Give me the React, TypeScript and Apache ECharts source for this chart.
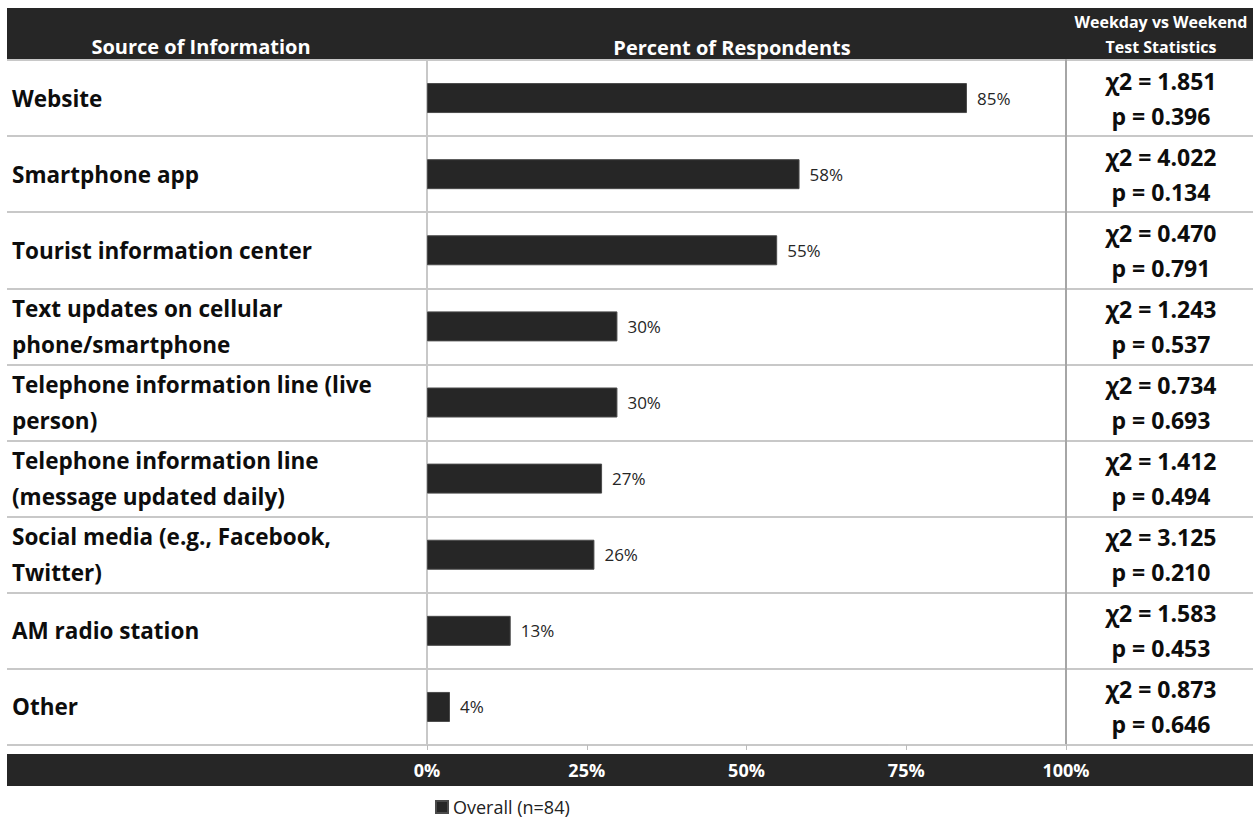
import React, { useEffect, useRef } from "react";
import * as echarts from "echarts";

const categories = [
  "Website",
  "Smartphone app",
  "Tourist information center",
  "Text updates on cellular\nphone/smartphone",
  "Telephone information line (live\nperson)",
  "Telephone information line\n(message updated daily)",
  "Social media (e.g., Facebook,\nTwitter)",
  "AM radio station",
  "Other",
];
const percents = [84.5, 58.3, 54.8, 29.8, 29.8, 27.4, 26.2, 13.1, 3.6];
const chiSquare = ["1.851", "4.022", "0.470", "1.243", "0.734", "1.412", "3.125", "1.583", "0.873"];
const pValues = ["0.396", "0.134", "0.791", "0.537", "0.693", "0.494", "0.210", "0.453", "0.646"];
const seriesName = "Overall (n=84)";

const FONT = "'Open Sans', 'Noto Sans', sans-serif";

export default function App() {
  const ref = useRef<HTMLDivElement>(null);
  useEffect(() => {
    if (!ref.current) return;
    const chart = echarts.init(ref.current, null, { renderer: "svg" });
    const statLabels = categories.map((_, i) => `χ2 = ${chiSquare[i]}\np = ${pValues[i]}`);
    chart.setOption({
      animation: false,
      textStyle: { fontFamily: FONT },
      grid: [
        { left: 7, right: 0, top: 60, bottom: 73 },
        { left: 427, right: 187, top: 60, bottom: 73 },
      ],
      legend: {
        data: [seriesName],
        left: 430,
        top: 792,
        icon: "rect",
        itemWidth: 12,
        itemHeight: 12,
        itemGap: 4,
        textStyle: { fontSize: 18, lineHeight: 20, color: "#222", fontFamily: FONT },
      },
      xAxis: [
        { gridIndex: 0, type: "value", show: false },
        {
          gridIndex: 1,
          type: "value",
          min: 0,
          max: 100,
          interval: 25,
          position: "bottom",
          z: 10,
          axisLine: { show: true, lineStyle: { color: "#c8c8c8", width: 2 } },
          axisTick: { show: true, length: 5, lineStyle: { color: "#bbbbbb", width: 1 } },
          splitLine: { show: false },
          axisLabel: {
            formatter: "{value}%",
            color: "#ffffff",
            fontWeight: "bold",
            fontSize: 18,
            margin: 16,
            fontFamily: FONT,
          },
        },
      ],
      yAxis: [
        {
          gridIndex: 0,
          type: "category",
          data: categories,
          inverse: true,
          axisLine: { show: false },
          axisTick: { show: false },
          splitLine: { show: true, lineStyle: { color: "#c8c8c8", width: 2 } },
          axisLabel: {
            inside: true,
            align: "left",
            margin: 5,
            fontSize: 22.5,
            fontWeight: "bold",
            color: "#0d0d0d",
            lineHeight: 36,
            fontFamily: FONT,
          },
        },
        {
          gridIndex: 0,
          type: "category",
          data: statLabels,
          inverse: true,
          position: "right",
          axisLine: { show: false },
          axisTick: { show: false },
          splitLine: { show: false },
          axisLabel: {
            inside: true,
            align: "center",
            margin: 92,
            fontSize: 23,
            fontWeight: "bold",
            color: "#0d0d0d",
            lineHeight: 35,
            fontFamily: FONT,
          },
        },
        {
          gridIndex: 1,
          type: "category",
          data: categories,
          inverse: true,
          axisLine: { show: true, lineStyle: { color: "#c8c8c8", width: 2 } },
          axisTick: { show: false },
          axisLabel: { show: false },
          splitLine: { show: false },
        },
        {
          gridIndex: 1,
          type: "category",
          data: categories,
          inverse: true,
          position: "right",
          axisLine: { show: true, lineStyle: { color: "#a6a6a6", width: 2 } },
          axisTick: { show: false },
          axisLabel: { show: false },
          splitLine: { show: false },
        },
      ],
      series: [
        {
          name: seriesName,
          type: "bar",
          xAxisIndex: 1,
          yAxisIndex: 2,
          data: percents,
          barWidth: 30,
          itemStyle: { color: "#262626", borderColor: "#4a4a4a", borderWidth: 1 },
          label: {
            show: true,
            position: "right",
            distance: 10,
            formatter: (p: any) => `${Math.round(p.value)}%`,
            color: "#262626",
            fontSize: 17,
            fontFamily: FONT,
          },
        },
      ],
      graphic: [
        {
          type: "rect",
          z: -10,
          shape: { x: 7, y: 8, width: 1246, height: 52 },
          style: { fill: "#262626" },
        },
        {
          type: "rect",
          z: -10,
          shape: { x: 7, y: 754, width: 1246, height: 32 },
          style: { fill: "#262626" },
        },
        {
          type: "text",
          z: 10,
          x: 201,
          y: 46,
          style: {
            text: "Source of Information",
            fill: "#fff",
            font: `bold 20px ${FONT}`,
            align: "center",
            verticalAlign: "middle",
          },
        },
        {
          type: "text",
          z: 10,
          x: 732,
          y: 47,
          style: {
            text: "Percent of Respondents",
            fill: "#fff",
            font: `bold 20px ${FONT}`,
            align: "center",
            verticalAlign: "middle",
          },
        },
        {
          type: "text",
          z: 10,
          x: 1161,
          y: 22,
          style: {
            text: "Weekday vs Weekend",
            fill: "#fff",
            font: `bold 16px ${FONT}`,
            align: "center",
            verticalAlign: "middle",
          },
        },
        {
          type: "text",
          z: 10,
          x: 1161,
          y: 47,
          style: {
            text: "Test Statistics",
            fill: "#fff",
            font: `bold 16px ${FONT}`,
            align: "center",
            verticalAlign: "middle",
          },
        },
      ],
    });
    return () => chart.dispose();
  }, []);
  return (
    <div
      ref={ref}
      style={{ position: "absolute", left: 0, top: 0, width: 1253, height: 818, background: "#fff" }}
    />
  );
}
